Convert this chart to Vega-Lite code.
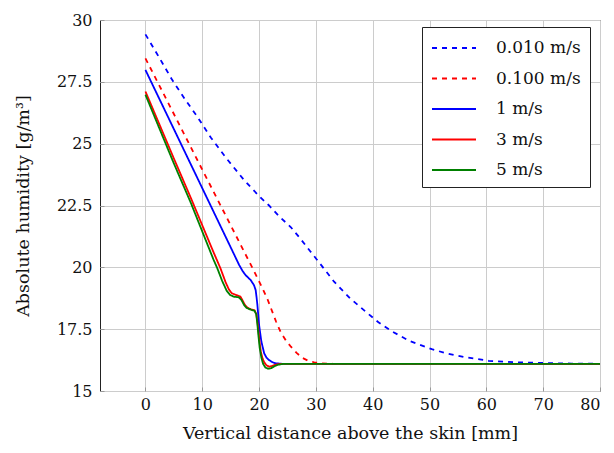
{
  "$schema": "https://vega.github.io/schema/vega-lite/v6.json",
  "autosize": {"type": "none"},
  "width": 500,
  "height": 371,
  "padding": {"left": 100, "top": 20, "right": 14, "bottom": 62},
  "background": "white",
  "config": {
    "view": {"stroke": "#222", "strokeWidth": 1},
    "font": "DejaVu Serif",
    "axis": {
      "labelFont": "DejaVu Serif",
      "titleFont": "DejaVu Serif",
      "labelFontSize": 16,
      "titleFontSize": 17.5,
      "titleFontWeight": "normal",
      "labelColor": "#111",
      "titleColor": "#111",
      "gridColor": "#cccccc",
      "gridWidth": 1,
      "domain": false,
      "tickColor": "#999",
      "tickSize": -4,
      "labelPadding": 10
    },
    "legend": {
      "labelFont": "DejaVu Serif",
      "labelFontSize": 17,
      "labelColor": "#111"
    }
  },
  "data": {
    "values": [
      {"s": "0.010 m/s", "x": 0, "y": 29.42},
      {"s": "0.010 m/s", "x": 2.5, "y": 28.45},
      {"s": "0.010 m/s", "x": 4.7, "y": 27.58},
      {"s": "0.010 m/s", "x": 7, "y": 26.78},
      {"s": "0.010 m/s", "x": 9.1, "y": 26.1},
      {"s": "0.010 m/s", "x": 11.5, "y": 25.25},
      {"s": "0.010 m/s", "x": 14.1, "y": 24.45},
      {"s": "0.010 m/s", "x": 17.35, "y": 23.53},
      {"s": "0.010 m/s", "x": 20, "y": 22.88},
      {"s": "0.010 m/s", "x": 21.75, "y": 22.5},
      {"s": "0.010 m/s", "x": 23.5, "y": 22.07},
      {"s": "0.010 m/s", "x": 25.6, "y": 21.62},
      {"s": "0.010 m/s", "x": 27.3, "y": 21.15},
      {"s": "0.010 m/s", "x": 29, "y": 20.65},
      {"s": "0.010 m/s", "x": 30.9, "y": 20.1},
      {"s": "0.010 m/s", "x": 33.2, "y": 19.42},
      {"s": "0.010 m/s", "x": 36, "y": 18.75},
      {"s": "0.010 m/s", "x": 38.9, "y": 18.18},
      {"s": "0.010 m/s", "x": 41, "y": 17.78},
      {"s": "0.010 m/s", "x": 43.3, "y": 17.42},
      {"s": "0.010 m/s", "x": 46.5, "y": 17.02},
      {"s": "0.010 m/s", "x": 50.4, "y": 16.69},
      {"s": "0.010 m/s", "x": 53, "y": 16.52},
      {"s": "0.010 m/s", "x": 56.2, "y": 16.37},
      {"s": "0.010 m/s", "x": 60.4, "y": 16.22},
      {"s": "0.010 m/s", "x": 65, "y": 16.16},
      {"s": "0.010 m/s", "x": 70.3, "y": 16.13},
      {"s": "0.010 m/s", "x": 75, "y": 16.11},
      {"s": "0.010 m/s", "x": 80, "y": 16.1},

      {"s": "0.100 m/s", "x": 0, "y": 28.45},
      {"s": "0.100 m/s", "x": 10, "y": 23.95},
      {"s": "0.100 m/s", "x": 19, "y": 19.9},
      {"s": "0.100 m/s", "x": 20.5, "y": 19.2},
      {"s": "0.100 m/s", "x": 21.5, "y": 18.7},
      {"s": "0.100 m/s", "x": 22.3, "y": 18.22},
      {"s": "0.100 m/s", "x": 23, "y": 17.8},
      {"s": "0.100 m/s", "x": 23.8, "y": 17.38},
      {"s": "0.100 m/s", "x": 24.7, "y": 17.05},
      {"s": "0.100 m/s", "x": 25.6, "y": 16.79},
      {"s": "0.100 m/s", "x": 26.6, "y": 16.54},
      {"s": "0.100 m/s", "x": 27.6, "y": 16.34},
      {"s": "0.100 m/s", "x": 28.6, "y": 16.23},
      {"s": "0.100 m/s", "x": 29.7, "y": 16.16},
      {"s": "0.100 m/s", "x": 31, "y": 16.12},
      {"s": "0.100 m/s", "x": 33, "y": 16.1},
      {"s": "0.100 m/s", "x": 80, "y": 16.1},

      {"s": "1 m/s", "x": 0, "y": 27.98},
      {"s": "1 m/s", "x": 5, "y": 25.59},
      {"s": "1 m/s", "x": 10, "y": 23.2},
      {"s": "1 m/s", "x": 15, "y": 20.81},
      {"s": "1 m/s", "x": 16.5, "y": 20.09},
      {"s": "1 m/s", "x": 17.1, "y": 19.85},
      {"s": "1 m/s", "x": 17.6, "y": 19.69},
      {"s": "1 m/s", "x": 18.5, "y": 19.49},
      {"s": "1 m/s", "x": 19.1, "y": 19.28},
      {"s": "1 m/s", "x": 19.4, "y": 19.08},
      {"s": "1 m/s", "x": 19.55, "y": 18.8},
      {"s": "1 m/s", "x": 19.7, "y": 18.48},
      {"s": "1 m/s", "x": 20.0, "y": 17.67},
      {"s": "1 m/s", "x": 20.4, "y": 17.0},
      {"s": "1 m/s", "x": 20.9, "y": 16.52},
      {"s": "1 m/s", "x": 21.3, "y": 16.35},
      {"s": "1 m/s", "x": 21.75, "y": 16.25},
      {"s": "1 m/s", "x": 22.3, "y": 16.17},
      {"s": "1 m/s", "x": 22.9, "y": 16.12},
      {"s": "1 m/s", "x": 24, "y": 16.1},
      {"s": "1 m/s", "x": 80, "y": 16.1},

      {"s": "3 m/s", "x": 0, "y": 27.11},
      {"s": "3 m/s", "x": 5, "y": 24.4},
      {"s": "3 m/s", "x": 8, "y": 22.8},
      {"s": "3 m/s", "x": 10, "y": 21.7},
      {"s": "3 m/s", "x": 12, "y": 20.6},
      {"s": "3 m/s", "x": 13.2, "y": 19.96},
      {"s": "3 m/s", "x": 14.1, "y": 19.4},
      {"s": "3 m/s", "x": 14.7, "y": 19.1},
      {"s": "3 m/s", "x": 15.2, "y": 18.95},
      {"s": "3 m/s", "x": 16.0, "y": 18.88},
      {"s": "3 m/s", "x": 16.7, "y": 18.82},
      {"s": "3 m/s", "x": 17.1, "y": 18.66},
      {"s": "3 m/s", "x": 17.5, "y": 18.48},
      {"s": "3 m/s", "x": 18.0, "y": 18.36},
      {"s": "3 m/s", "x": 18.6, "y": 18.3},
      {"s": "3 m/s", "x": 19.2, "y": 18.26},
      {"s": "3 m/s", "x": 19.5, "y": 18.12},
      {"s": "3 m/s", "x": 19.7, "y": 17.8},
      {"s": "3 m/s", "x": 19.9, "y": 17.4},
      {"s": "3 m/s", "x": 20.1, "y": 16.95},
      {"s": "3 m/s", "x": 20.3, "y": 16.6},
      {"s": "3 m/s", "x": 20.6, "y": 16.32},
      {"s": "3 m/s", "x": 20.9, "y": 16.16},
      {"s": "3 m/s", "x": 21.3, "y": 16.04},
      {"s": "3 m/s", "x": 21.8, "y": 15.98},
      {"s": "3 m/s", "x": 22.3, "y": 16.01},
      {"s": "3 m/s", "x": 22.8, "y": 16.06},
      {"s": "3 m/s", "x": 23.5, "y": 16.09},
      {"s": "3 m/s", "x": 25, "y": 16.1},
      {"s": "3 m/s", "x": 80, "y": 16.1},

      {"s": "5 m/s", "x": 0, "y": 26.98},
      {"s": "5 m/s", "x": 5, "y": 24.2},
      {"s": "5 m/s", "x": 8, "y": 22.6},
      {"s": "5 m/s", "x": 10, "y": 21.45},
      {"s": "5 m/s", "x": 12, "y": 20.3},
      {"s": "5 m/s", "x": 12.65, "y": 19.96},
      {"s": "5 m/s", "x": 13.5, "y": 19.45},
      {"s": "5 m/s", "x": 14.3, "y": 19.05},
      {"s": "5 m/s", "x": 14.9, "y": 18.88},
      {"s": "5 m/s", "x": 15.6, "y": 18.81},
      {"s": "5 m/s", "x": 16.4, "y": 18.79},
      {"s": "5 m/s", "x": 16.9, "y": 18.68},
      {"s": "5 m/s", "x": 17.35, "y": 18.48},
      {"s": "5 m/s", "x": 17.8, "y": 18.36},
      {"s": "5 m/s", "x": 18.4, "y": 18.3},
      {"s": "5 m/s", "x": 19.2, "y": 18.24},
      {"s": "5 m/s", "x": 19.5, "y": 18.1},
      {"s": "5 m/s", "x": 19.7, "y": 17.7},
      {"s": "5 m/s", "x": 19.9, "y": 17.2},
      {"s": "5 m/s", "x": 20.1, "y": 16.75},
      {"s": "5 m/s", "x": 20.4, "y": 16.35},
      {"s": "5 m/s", "x": 20.7, "y": 16.1},
      {"s": "5 m/s", "x": 21.1, "y": 15.95},
      {"s": "5 m/s", "x": 21.6, "y": 15.9},
      {"s": "5 m/s", "x": 22.1, "y": 15.92},
      {"s": "5 m/s", "x": 22.7, "y": 16.0},
      {"s": "5 m/s", "x": 23.3, "y": 16.06},
      {"s": "5 m/s", "x": 24, "y": 16.09},
      {"s": "5 m/s", "x": 25, "y": 16.1},
      {"s": "5 m/s", "x": 80, "y": 16.1}
    ]
  },
  "mark": {"type": "line", "strokeWidth": 1.8, "clip": true},
  "encoding": {
    "x": {
      "field": "x",
      "type": "quantitative",
      "scale": {"domain": [-8, 80], "nice": false, "zero": false},
      "axis": {"values": [0, 10, 20, 30, 40, 50, 60, 70, 80], "title": "Vertical distance above the skin [mm]", "labelPadding": 9, "titlePadding": 12}
    },
    "y": {
      "field": "y",
      "type": "quantitative",
      "scale": {"domain": [15, 30], "nice": false, "zero": false},
      "axis": {"values": [15, 17.5, 20, 22.5, 25, 27.5, 30], "format": ".1~f", "title": "Absolute humidity [g/m³]", "labelPadding": 12, "titlePadding": 24}
    },
    "color": {
      "field": "s",
      "type": "nominal",
      "scale": {
        "domain": ["0.010 m/s", "0.100 m/s", "1 m/s", "3 m/s", "5 m/s"],
        "range": ["#0000ff", "#ff0000", "#0000ff", "#ff0000", "#008000"]
      },
      "legend": {
        "title": null,
        "orient": "none",
        "legendX": 322,
        "legendY": 7,
        "symbolType": "M-2,0H2",
        "symbolSize": 484,
        "symbolStrokeWidth": 1.8,
        "symbolOffset": 11,
        "rowPadding": 10.5,
        "labelOffset": 30,
        "padding": 9,
        "strokeColor": "#222",
        "fillColor": "white"
      }
    },
    "strokeDash": {
      "field": "s",
      "type": "nominal",
      "scale": {
        "domain": ["0.010 m/s", "0.100 m/s", "1 m/s", "3 m/s", "5 m/s"],
        "range": [[5, 5], [5, 5], [1, 0], [1, 0], [1, 0]]
      },
      "legend": {
        "title": null,
        "orient": "none",
        "legendX": 322,
        "legendY": 7,
        "symbolType": "M-2,0H2",
        "symbolSize": 484,
        "symbolStrokeWidth": 1.8,
        "symbolOffset": 11,
        "rowPadding": 10.5,
        "labelOffset": 30,
        "padding": 9,
        "strokeColor": "#222",
        "fillColor": "white"
      }
    }
  }
}
